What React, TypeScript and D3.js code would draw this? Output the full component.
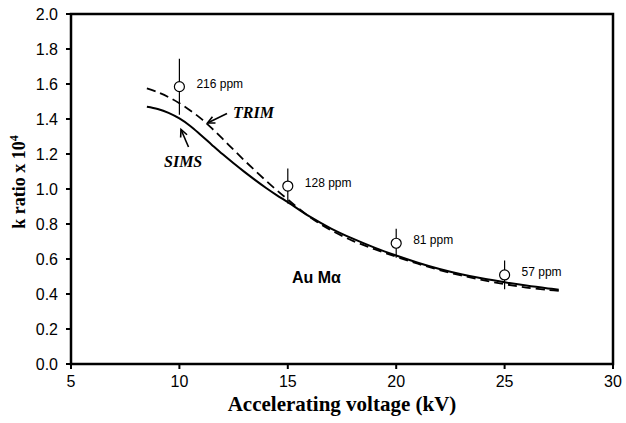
import React from "react";
import * as d3 from "d3";

const xTicks = [5, 10, 15, 20, 25, 30];
const yTicks = [0, 0.2, 0.4, 0.6, 0.8, 1.0, 1.2, 1.4, 1.6, 1.8, 2.0];

const pointVoltage = [10, 15, 20, 25];
const pointK = [1.585, 1.017, 0.69, 0.509];
const pointErr = [0.16, 0.1, 0.083, 0.082];
const pointLabels = ["216 ppm", "128 ppm", "81 ppm", "57 ppm"];

const simsV = [8.5, 9, 9.5, 10, 10.5, 11, 11.5, 12, 12.5, 13, 13.5, 14, 14.5, 15, 16, 17, 18, 19, 20, 21, 22, 23, 24, 25, 26, 27, 27.5];
const simsK = [1.47, 1.457, 1.435, 1.403, 1.36, 1.307, 1.252, 1.198, 1.147, 1.098, 1.051, 1.006, 0.964, 0.925, 0.843, 0.774, 0.716, 0.665, 0.62, 0.579, 0.543, 0.513, 0.488, 0.467, 0.448, 0.432, 0.425];

const trimV = [8.5, 9, 9.5, 10, 10.5, 11, 11.5, 12, 12.5, 13, 13.5, 14, 14.5, 15, 16, 17, 18, 19, 20, 21, 22, 23, 24, 25, 26, 27, 27.5];
const trimK = [1.575, 1.553, 1.525, 1.49, 1.449, 1.402, 1.346, 1.286, 1.224, 1.163, 1.104, 1.047, 0.992, 0.94, 0.841, 0.764, 0.704, 0.656, 0.613, 0.573, 0.537, 0.506, 0.479, 0.456, 0.437, 0.423, 0.418];

const W = 626;
const H = 423;
const L = 71, R = 613, T = 14, B = 364;

export default function App() {
  const x = d3.scaleLinear().domain([5, 30]).range([L, R]);
  const y = d3.scaleLinear().domain([0, 2]).range([B, T]);
  const line = d3
    .line<[number, number]>()
    .x((d) => x(d[0]))
    .y((d) => y(d[1]))
    .curve(d3.curveCatmullRom.alpha(0.5));
  const sims = line(simsV.map((v, i) => [v, simsK[i]]) as [number, number][]) || "";
  const trim = line(trimV.map((v, i) => [v, trimK[i]]) as [number, number][]) || "";

  const arrow = (x1: number, y1: number, x2: number, y2: number) => {
    const a = Math.atan2(y2 - y1, x2 - x1);
    const len = 8;
    const sp = 0.45;
    const p1 = [x2 - len * Math.cos(a - sp), y2 - len * Math.sin(a - sp)];
    const p2 = [x2 - len * Math.cos(a + sp), y2 - len * Math.sin(a + sp)];
    return (
      <g stroke="#000" strokeWidth={1.6} fill="none">
        <line x1={x1} y1={y1} x2={x2} y2={y2} />
        <polyline points={`${p1[0]},${p1[1]} ${x2},${y2} ${p2[0]},${p2[1]}`} />
      </g>
    );
  };

  return (
    <svg
      width={W}
      height={H}
      style={{ position: "absolute", left: 0, top: 0, background: "#fff" }}
    >
      <rect x={0} y={0} width={W} height={H} fill="#fff" />
      <rect x={L} y={T} width={R - L} height={B - T} fill="none" stroke="#000" strokeWidth={2.5} />
      {yTicks.map((t) => (
        <g key={"y" + t}>
          <line x1={L - 5} x2={L} y1={y(t)} y2={y(t)} stroke="#000" strokeWidth={2} />
          <text
            x={L - 13}
            y={y(t)}
            dy="0.35em"
            textAnchor="end"
            fontFamily="Liberation Sans, Arial, sans-serif"
            fontSize={16}
          >
            {t.toFixed(1)}
          </text>
        </g>
      ))}
      {xTicks.map((t) => (
        <g key={"x" + t}>
          <line x1={x(t)} x2={x(t)} y1={B} y2={B + 5} stroke="#000" strokeWidth={2} />
          <text
            x={x(t)}
            y={B + 23}
            textAnchor="middle"
            fontFamily="Liberation Sans, Arial, sans-serif"
            fontSize={16}
          >
            {t}
          </text>
        </g>
      ))}
      <text
        x={(L + R) / 2}
        y={411}
        textAnchor="middle"
        fontFamily="Liberation Serif, Times New Roman, serif"
        fontWeight="bold"
        fontSize={21}
      >
        Accelerating voltage (kV)
      </text>
      <text
        transform={`translate(25,182) rotate(-90)`}
        textAnchor="middle"
        fontFamily="Liberation Serif, Times New Roman, serif"
        fontWeight="bold"
        fontSize={18}
      >
        k ratio x 10
        <tspan dy={-7} fontSize={12}>4</tspan>
      </text>

      <path d={trim} fill="none" stroke="#000" strokeWidth={1.8} strokeDasharray="9,5" />
      <path d={sims} fill="none" stroke="#000" strokeWidth={2} />

      {pointVoltage.map((v, i) => (
        <g key={"p" + v}>
          <line
            x1={x(v)}
            x2={x(v)}
            y1={y(pointK[i] + pointErr[i])}
            y2={y(pointK[i] - pointErr[i])}
            stroke="#000"
            strokeWidth={1.2}
          />
          <circle cx={x(v)} cy={y(pointK[i])} r={5} fill="#fff" stroke="#000" strokeWidth={1.2} />
          <text
            x={x(v) + 17}
            y={y(pointK[i]) - 3}
            dy="0.35em"
            fontFamily="Liberation Sans, Arial, sans-serif"
            fontSize={12}
          >
            {pointLabels[i]}
          </text>
        </g>
      ))}

      <text
        x={233}
        y={118}
        fontFamily="Liberation Serif, Times New Roman, serif"
        fontWeight="bold"
        fontStyle="italic"
        fontSize={16}
      >
        TRIM
      </text>
      {arrow(227, 113.5, 207.5, 123)}
      <text
        x={164}
        y={167}
        fontFamily="Liberation Serif, Times New Roman, serif"
        fontWeight="bold"
        fontStyle="italic"
        fontSize={16}
      >
        SIMS
      </text>
      {arrow(188.5, 147, 181, 129.5)}
      <text
        x={292}
        y={283}
        fontFamily="Liberation Sans, Arial, sans-serif"
        fontWeight="bold"
        fontSize={16}
      >
        Au Mα
      </text>
    </svg>
  );
}
